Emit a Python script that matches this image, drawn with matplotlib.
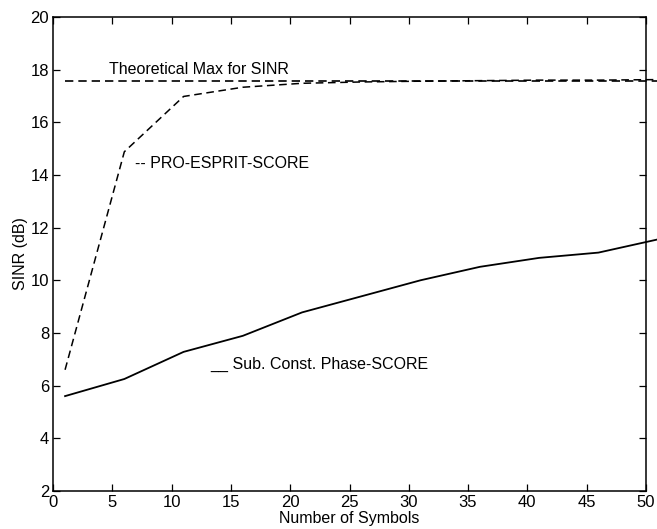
import matplotlib
matplotlib.use("Agg")
import matplotlib.pyplot as plt

plt.rcParams['font.family'] = ['Liberation Sans', 'DejaVu Sans']

symbols = [1, 6, 11, 16, 21, 26, 31, 36, 41, 46, 51]
pro_esprit = [6.6, 14.88, 16.98, 17.33, 17.48, 17.53, 17.56, 17.58, 17.6, 17.6, 17.62]
sub_const = [5.6, 6.25, 7.28, 7.89, 8.78, 9.39, 10.0, 10.51, 10.85, 11.05, 11.55]
theory_x = [1, 51]
theory_max = [17.57, 17.57]

x_ticks = [0, 5, 10, 15, 20, 25, 30, 35, 40, 45, 50]
y_ticks = [2, 4, 6, 8, 10, 12, 14, 16, 18, 20]

fig = plt.figure(figsize=(6.57, 5.29), dpi=100)
ax = fig.add_axes([0.081, 0.072, 0.902, 0.896])

ax.plot(theory_x, theory_max, color='black', lw=1.2, linestyle=(0, (5, 3)), clip_on=False)
ax.plot(symbols, pro_esprit, color='black', lw=1.1, linestyle=(0, (5, 3)), clip_on=False)
ax.plot(symbols, sub_const, color='black', lw=1.3, linestyle='-', clip_on=False)

ax.set_xlim(0, 50)
ax.set_ylim(2, 20)
ax.set_xticks(x_ticks)
ax.set_yticks(y_ticks)
ax.tick_params(direction='in', top=True, right=True, length=5, width=0.9, labelsize=12, pad=3)
for s in ax.spines.values():
    s.set_linewidth(1.1)

ax.text(4.7, 17.99, 'Theoretical Max for SINR', fontsize=11.5, va='center', ha='left')
ax.text(6.9, 14.45, '-- PRO-ESPRIT-SCORE', fontsize=11.5, va='center', ha='left')
ax.text(13.24, 6.8, '__ Sub. Const. Phase-SCORE', fontsize=11.5, va='center', ha='left')

ax.set_xlabel('Number of Symbols', fontsize=11.5, labelpad=1)
ax.set_ylabel('SINR (dB)', fontsize=11.5, labelpad=2)

fig.savefig('out.png', dpi=100)
